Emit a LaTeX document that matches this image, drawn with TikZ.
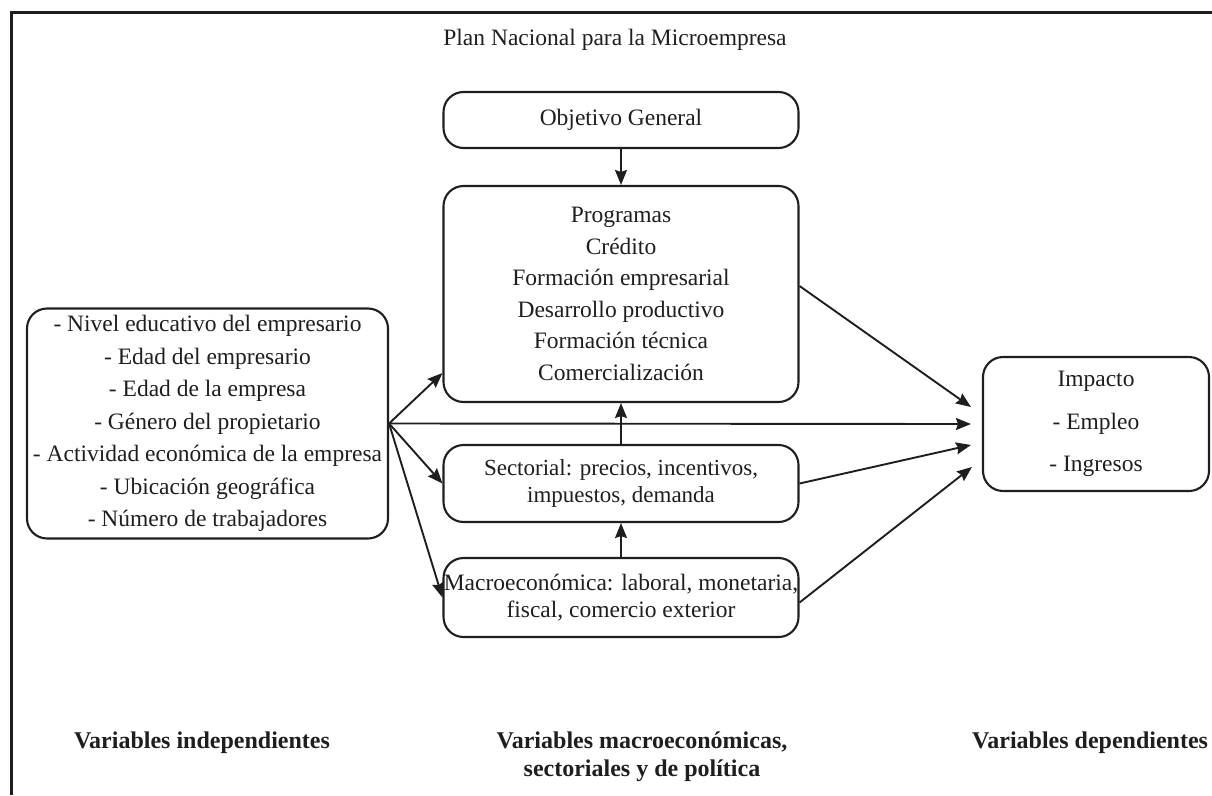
\documentclass[tikz,border=0pt]{standalone}
\usepackage{fontspec}
\setmainfont{Liberation Serif}
\usepackage{tikz}
\usetikzlibrary{arrows.meta,positioning}
\definecolor{inkgray}{RGB}{30,30,30}
\tikzstyle{arrow}=[-{Stealth[length=15pt,width=12pt,inset=2pt]},line width=1.9pt,draw=inkgray]
\tikzstyle{varbox}=[rectangle,rounded corners=20pt,draw=inkgray,line width=2.1pt,inner sep=0pt,
                  align=center,text=inkgray,font=\fontsize{23.5}{32}\selectfont]
\tikzstyle{caption}=[align=center,text=inkgray,font=\bfseries\fontsize{24}{28}\selectfont]

\begin{document}
\begin{tikzpicture}[x=1pt,y=-1pt]
      \useasboundingbox (0,0) rectangle (1212,795);
      \draw[line width=3pt,inkgray] (1212,12) -- (11,12) -- (11,795);

      \node[text=inkgray,font=\fontsize{23.5}{28}\selectfont] (plan) at (615,40) {Plan Nacional para la Microempresa};

      \node[varbox,minimum width=355pt,minimum height=56pt] (obj) at (621,120) {Objetivo General};
      \node[varbox,minimum width=355pt,minimum height=216pt,font=\fontsize{23.5}{31.6}\selectfont] (prog) at (621,294)
            {Programas\\Crédito\\Formación empresarial\\Desarrollo productivo\\Formación técnica\\Comercialización};
      \node[varbox,minimum width=355pt,minimum height=77pt,font=\fontsize{23}{27}\selectfont] (sect) at (621,483.5)
            {Sectorial: precios, incentivos,\\impuestos, demanda};
      \node[varbox,minimum width=355pt,minimum height=79pt,font=\fontsize{23.5}{26.5}\selectfont] (macro) at (621,597.5)
            {Macroeconómica: laboral, monetaria,\\fiscal, comercio exterior};
      \node[varbox,minimum width=361pt,minimum height=230pt,font=\fontsize{23.5}{32.5}\selectfont] (indep) at (207.5,423.5)
            {- Nivel educativo del empresario\\- Edad del empresario\\- Edad de la empresa\\- Género del propietario\\
             - Actividad económica de la empresa\\- Ubicación geográfica\\- Número de trabajadores};
      \node[varbox,minimum width=226pt,minimum height=134pt,font=\fontsize{23.5}{42.5}\selectfont] (impact) at (1096,424)
            {Impacto\\- Empleo\\- Ingresos};

      \node[caption] (capindep) at (202,743) {Variables independientes};
      \node[caption] (capmacro) at (642,757) {Variables macroeconómicas,\\sectoriales y de política};
      \node[caption,anchor=west,inner sep=0pt] (capdep) at (972,743) {Variables dependientes};

      \draw[arrow] (obj)--(prog);
      \draw[arrow] (sect)--(prog);
      \draw[arrow] (macro)--(sect);

      \draw[arrow] (indep.east)--([yshift=30pt]prog.south west);
      \draw[arrow] (indep.east)--(sect.west);
      \draw[arrow] (indep.east)--(macro.west);
      \draw[arrow] (indep.east)--([xshift=-11pt]impact.west);

      \draw[arrow] ([yshift=8pt]prog.east)--([xshift=-11pt,yshift=17pt]impact.west);
      \draw[arrow] (sect.east)--([xshift=-11pt,yshift=-21pt]impact.west);
      \draw[arrow] ([yshift=-5pt]macro.east)--([xshift=-10pt,yshift=-43pt]impact.west);
    \end{tikzpicture}
\end{document}
